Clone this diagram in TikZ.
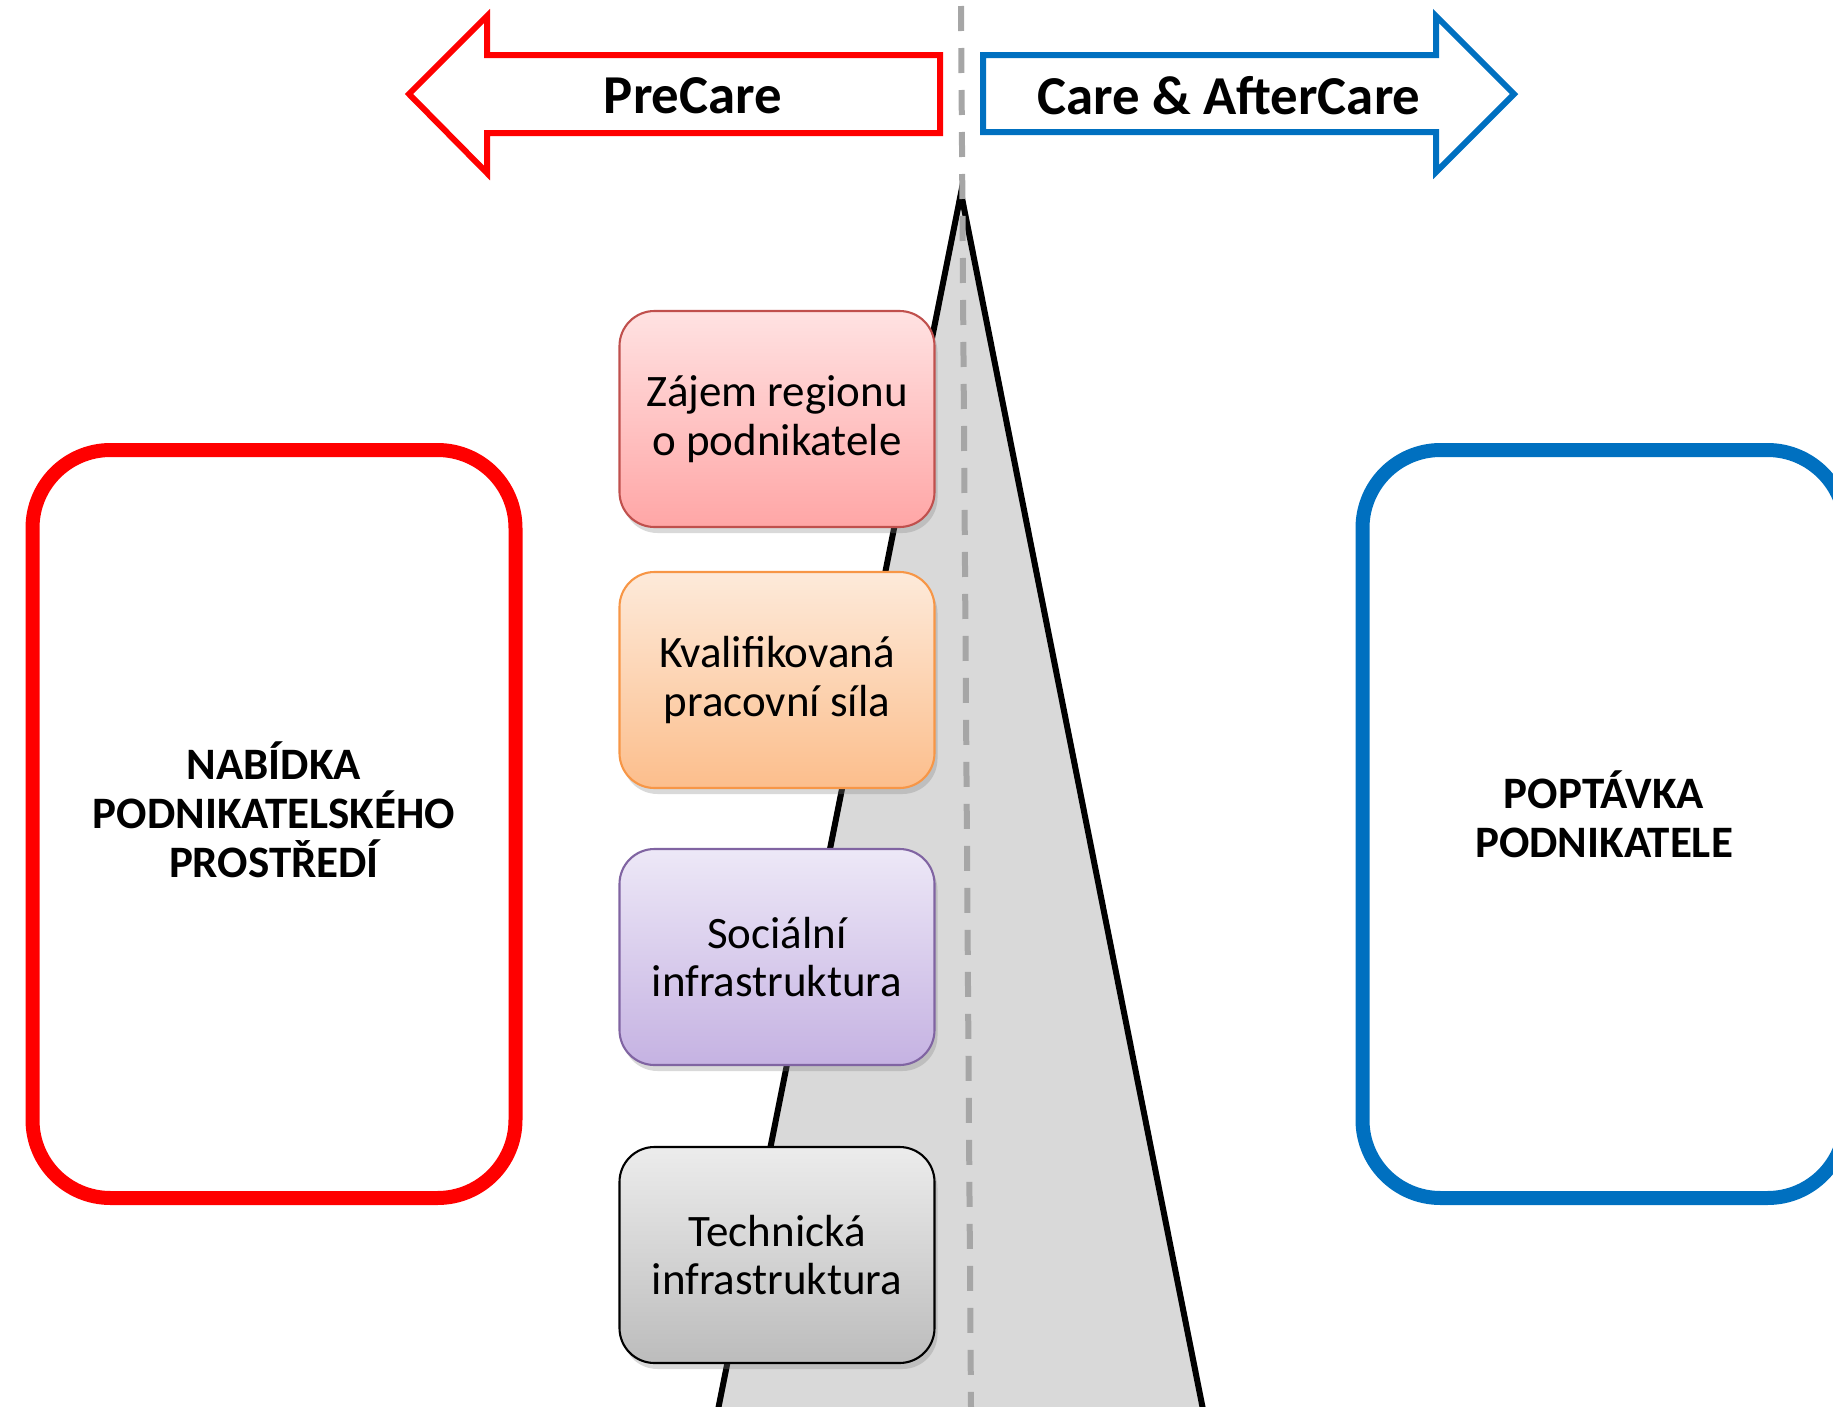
\documentclass[tikz,border=0pt]{standalone}
\usepackage{fontspec}
\setmainfont{Carlito}
\usetikzlibrary{shadows}
\definecolor{prered}{RGB}{255,0,0}
\definecolor{careblue}{RGB}{0,112,192}
\definecolor{dashgray}{RGB}{166,166,166}
\definecolor{wedgegray}{RGB}{217,217,217}
\tikzset{
factor/.style={
	  draw, rounded corners=3.5mm, minimum width=31.5mm, minimum height=21.6mm,
	    align=center, line width=0.6pt, font=\fontsize{12.8}{13.9}\selectfont,
	    drop shadow={shadow xshift=0.3mm, shadow yshift=-0.6mm, opacity=0.3}},
side/.style={
	  draw, rounded corners=7.8mm, line width=1.4mm, minimum width=48.3mm,
	    minimum height=74.8mm, text=black, align=center,
	    font=\bfseries\fontsize{12.8}{13.9}\selectfont},
phase/.style={line width=0.6mm, line join=miter, fill=white}
}

\begin{document}
\begin{tikzpicture}[x=0.1mm, y=-0.1mm]
	\useasboundingbox (0,0) rectangle (1833,1407);
	\clip (0,0) rectangle (1833,1407);
	\draw[phase, draw=prered] (409,94) -- (487,16) -- (487,55) -- (940,55)
		-- (940,133) -- (487,133) -- (487,173) -- cycle;
	\draw[phase, draw=careblue] (1514,94) -- (1436,16) -- (1436,55) -- (983,55)
		-- (983,132) -- (1436,132) -- (1436,172) -- cycle;
	\node[font=\bfseries\fontsize{15.6}{18}\selectfont] (pre) at (693,96) {PreCare};
	\node[font=\bfseries\fontsize{15.6}{18}\selectfont] (after) at (1229,96) {Care \& AfterCare};
	\draw[line width=0.6mm, fill=wedgegray, line join=miter]
		(961,193) -- (700,1500) -- (1221,1500) -- cycle;
	\draw[dashgray, line width=0.6mm, dash pattern=on 2.5mm off 1.7mm]
		(961,6) -- (971,1407);
	\node[factor, draw={rgb,255:red,192;green,80;blue,77},
		top color={rgb,255:red,255;green,226;blue,226},
		bottom color={rgb,255:red,255;green,166;blue,166}] (zajem) at (777,419)
		{Zájem regionu\\o podnikatele};
	\node[factor, draw={rgb,255:red,247;green,150;blue,70},
		top color={rgb,255:red,253;green,234;blue,218},
		bottom color={rgb,255:red,252;green,190;blue,140}] (sila) at (777,680)
		{Kvalifikovaná\\pracovní síla};
	\node[factor, draw={rgb,255:red,128;green,100;blue,162},
		top color={rgb,255:red,237;green,232;blue,247},
		bottom color={rgb,255:red,197;green,178;blue,226}] (socialni) at (777,957)
		{Sociální\\infrastruktura};
	\node[factor, draw=black,
		top color={rgb,255:red,236;green,236;blue,236},
		bottom color={rgb,255:red,188;green,188;blue,188}] (technicka) at (777,1255)
		{Technická\\infrastruktura};
	\node[side, prered, label={[text=black, align=center, yshift=1.4mm,
		font=\bfseries\fontsize{12.8}{13.9}\selectfont]center:NABÍDKA\\PODNIKATELSKÉHO\\PROSTŘEDÍ}]
		(nabidka) at (274,824) {};
	\node[side, careblue, label={[text=black, align=center, yshift=1.0mm,
		font=\bfseries\fontsize{12.8}{13.9}\selectfont]center:POPTÁVKA\\PODNIKATELE}]
		(poptavka) at (1604,824) {};
\end{tikzpicture}
\end{document}
